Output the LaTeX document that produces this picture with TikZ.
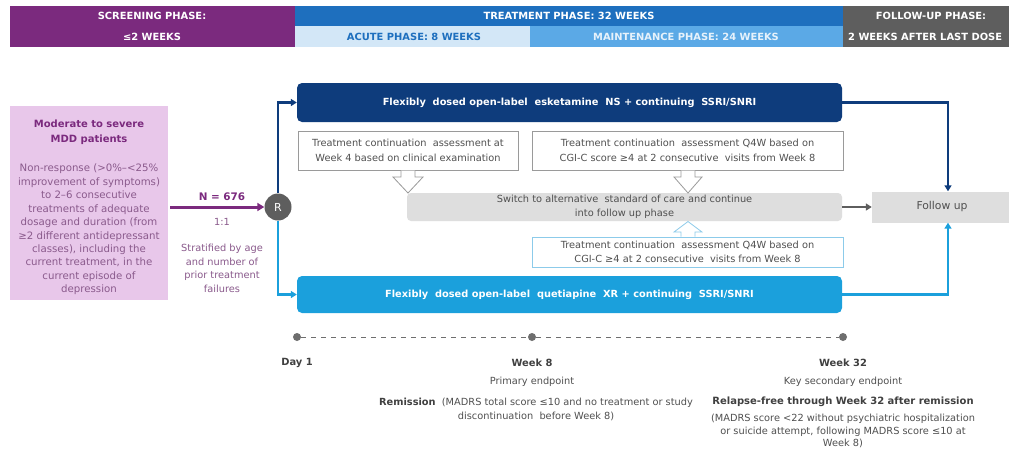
\documentclass[tikz,border=0pt]{standalone}
\usepackage{fontspec}
\setmainfont{DejaVu Sans}
\usetikzlibrary{arrows.meta,calc}
\definecolor{scrpurple}{HTML}{7B2A7E}
\definecolor{trtblue}{HTML}{1E6FBE}
\definecolor{acuteblue}{HTML}{D3E7F7}
\definecolor{maintblue}{HTML}{5BA9E6}
\definecolor{fugray}{HTML}{5E5E5E}
\definecolor{lilac}{HTML}{E8C7EA}
\definecolor{purpletext}{HTML}{8A5A8C}
\definecolor{navy}{HTML}{0E3C7C}
\definecolor{skyblue}{HTML}{1BA0DC}
\definecolor{paleblue}{HTML}{8CCBEA}
\definecolor{boxgray}{HTML}{DEDEDE}
\definecolor{txtgray}{HTML}{505050}
\definecolor{linegray}{HTML}{9A9A9A}
\tikzset{
  hdrtxt/.style={font=\fontsize{9.9}{11}\selectfont\bfseries, text=white, inner sep=0pt},
  armbox/.style={rounded corners=5pt, text=white, font=\fontsize{9.8}{11}\selectfont\bfseries, inner sep=0pt},
  assessbox/.style={draw=linegray, line width=0.8pt, fill=white, align=center, text=txtgray,
     font=\fontsize{9.8}{14.5}\selectfont, inner sep=0pt},
  graybox/.style={fill=boxgray, rounded corners=4pt, align=center, text=txtgray,
     font=\fontsize{9.8}{14}\selectfont, inner sep=0pt},
  plaintxt/.style={text=txtgray, font=\fontsize{9.8}{14}\selectfont, align=center, inner sep=0pt},
  boldtxt/.style={text=txtgray!80!black, font=\fontsize{9.9}{11}\selectfont\bfseries, inner sep=0pt},
  hollow/.style={draw=linegray, line width=0.8pt, fill=white},
  hollowblue/.style={draw=paleblue, line width=0.8pt, fill=white},
  tl/.style={fill=fugray!90, draw=none, circle, minimum size=8pt, inner sep=0pt},
}
\begin{document}
\begin{tikzpicture}[x=1pt,y=-1pt]
\useasboundingbox (0,0) rectangle (1009,448);
\fill[white] (0,0) rectangle (1009,448);

% ---------- phase header ----------
\node[fill=scrpurple, minimum width=285pt, minimum height=41pt, inner sep=0pt] (scr) at (152.5,26.5) {};
\node[fill=trtblue, minimum width=548pt, minimum height=20pt, inner sep=0pt] (trt) at (569,16) {};
\node[fill=acuteblue, minimum width=235pt, minimum height=21pt, inner sep=0pt] (acute) at (412.5,36.5) {};
\node[fill=maintblue, minimum width=313pt, minimum height=21pt, inner sep=0pt] (maint) at (686.5,36.5) {};
\node[fill=fugray, minimum width=170pt, minimum height=41pt, inner sep=0pt] (fu) at (928,26.5) {};
\node[hdrtxt] (scr1) at (152,16) {SCREENING PHASE:};
\node[hdrtxt] (scr2) at (152,37) {≤2 WEEKS};
\node[hdrtxt] (trt1) at (569,16) {TREATMENT PHASE: 32 WEEKS};
\node[hdrtxt, text=trtblue] (acute1) at (414,37) {ACUTE PHASE: 8 WEEKS};
\node[hdrtxt, text=white!85!maintblue] (maint1) at (686,37) {MAINTENANCE PHASE: 24 WEEKS};
\node[hdrtxt] (fu1) at (931,16) {FOLLOW-UP PHASE:};
\node[hdrtxt, anchor=west] (fu2) at (848,37) {2 WEEKS AFTER LAST DOSE};

% ---------- population ----------
\node[fill=lilac, minimum width=158pt, minimum height=194pt, inner sep=0pt] (pop) at (89,203) {};
\node[text=scrpurple, font=\fontsize{10}{15}\selectfont\bfseries, align=center, inner sep=0pt]
  (poptitle) at (89,132) {Moderate to severe\\MDD patients};
\node[text=purpletext, font=\fontsize{10.2}{13.45}\selectfont, align=center, inner sep=0pt]
  (popbody) at (89,229.5) {Non-response (>0\%–<25\%\\improvement of symptoms)\\to 2–6 consecutive\\treatments of adequate\\dosage and duration (from\\≥2 different antidepressant\\classes), including the\\current treatment, in the\\current episode of\\depression};

% ---------- randomisation ----------
\node[circle, fill=fugray, minimum size=27pt, inner sep=0pt, text=white, font=\fontsize{11}{12}\selectfont] (R) at (278,207) {R};
\coordinate (popout) at (170,207);
\draw[scrpurple, line width=3pt, -{Triangle[length=7pt,width=8pt]}] (popout) -- (R.west);
\node[text=scrpurple, font=\fontsize{10.4}{12}\selectfont\bfseries, inner sep=0pt] (N) at (222,197) {N = 676};
\node[text=purpletext, font=\fontsize{9.8}{12}\selectfont, inner sep=0pt] (ratio) at (222,222) {1:1};
\node[text=purpletext, font=\fontsize{9.8}{13.6}\selectfont, align=center, inner sep=0pt] (strat) at (222,268.5)
  {Stratified by age\\and number of\\prior treatment\\failures};

% ---------- treatment arms ----------
\node[armbox, fill=navy, minimum width=545pt, minimum height=39pt] (esk) at (569.5,102.5)
  {Flexibly\ \ dosed open-label\ \ esketamine\ \ NS + continuing\ \ SSRI/SNRI};
\node[armbox, fill=skyblue, minimum width=545pt, minimum height=37pt] (que) at (569.5,294.5)
  {Flexibly\ \ dosed open-label\ \ quetiapine\ \ XR + continuing\ \ SSRI/SNRI};

\draw[navy, line width=2.2pt, -{Triangle[length=6pt,width=7pt]}] (R.north) |- (esk.west);
\draw[skyblue, line width=2.2pt, -{Triangle[length=6pt,width=7pt]}] (R.south) |- (que.west);

% ---------- continuation assessments ----------
\node[assessbox, minimum width=220pt, minimum height=39pt] (as1) at (408,150.5)
  {Treatment continuation\ \ assessment at\\Week 4 based on clinical examination};
\node[assessbox, minimum width=311pt, minimum height=39pt] (as2) at (687.5,150.5)
  {Treatment continuation\ \ assessment Q4W based on\\CGI-C score ≥4 at 2 consecutive\ \ visits from Week 8};
\node[assessbox, draw=paleblue, font=\fontsize{9.8}{14}\selectfont, minimum width=311pt, minimum height=30pt] (as3) at (687.5,252)
  {Treatment continuation\ \ assessment Q4W based on\\CGI-C ≥4 at 2 consecutive\ \ visits from Week 8};

\node[graybox, minimum width=435pt, minimum height=28pt] (sw) at (624.5,207)
  {Switch to alternative\ \ standard of care and continue\\into follow up phase};
\node[fill=boxgray, minimum width=140pt, minimum height=31pt, inner sep=0pt, text=txtgray,
  font=\fontsize{10.8}{12}\selectfont] (fup) at (942,207) {Follow up};

% hollow block arrows into the switch box
\draw[hollow] (401,170.6) -- (401,177) -- (393,177) -- (408,193) -- (423,177) -- (415,177) -- (415,170.6);
\draw[hollow] (681,170.6) -- (681,177) -- (674,177) -- (688,193) -- (702,177) -- (695,177) -- (695,170.6);
\draw[hollowblue] (681,236.6) -- (681,232) -- (674,232) -- (688,221.5) -- (702,232) -- (695,232) -- (695,236.6);

% arms and switch box into follow-up
\coordinate (eskturn) at (948,102.5);
\coordinate (queturn) at (948,294.5);
\draw[navy, line width=2.2pt, -{Triangle[length=6pt,width=7pt]}] (esk.east) -- (eskturn) -- (eskturn |- fup.north);
\draw[skyblue, line width=2.2pt, -{Triangle[length=6pt,width=7pt]}] (que.east) -- (queturn) -- (queturn |- fup.south);
\draw[fugray, line width=2.2pt, -{Triangle[length=6pt,width=7pt]}] (sw.east) -- (fup.west);

% ---------- timeline ----------
\node[tl] (d1) at (297,337) {};
\node[tl] (w8) at (532,337) {};
\node[tl] (w32) at (843,337) {};
\draw[fugray!90, line width=1pt, dash pattern=on 5pt off 5pt] (d1) -- (w8);
\draw[fugray!90, line width=1pt, dash pattern=on 5pt off 5pt] (w8) -- (w32);

\node[boldtxt] (day1) at (297,363) {Day 1};
\node[boldtxt] (wk8) at (532,363) {Week 8};
\node[boldtxt] (wk32) at (843,363) {Week 32};
\node[plaintxt] (prim) at (532,382) {Primary endpoint};
\node[plaintxt] (sec) at (843,382) {Key secondary endpoint};
\node[plaintxt] (remis) at (536,409)
  {\textbf{\color{txtgray!80!black}Remission}\ \ (MADRS total score ≤10 and no treatment or study\\discontinuation\ \ before Week 8)};
\node[boldtxt, font=\fontsize{10}{11}\selectfont\bfseries] (relap) at (843,402) {Relapse-free through Week 32 after remission};
\node[plaintxt, font=\fontsize{9.8}{12.8}\selectfont] (relapb) at (843,431)
  {(MADRS score <22 without psychiatric hospitalization\\or suicide attempt, following MADRS score ≤10 at\\Week 8)};
\end{tikzpicture}
\end{document}
